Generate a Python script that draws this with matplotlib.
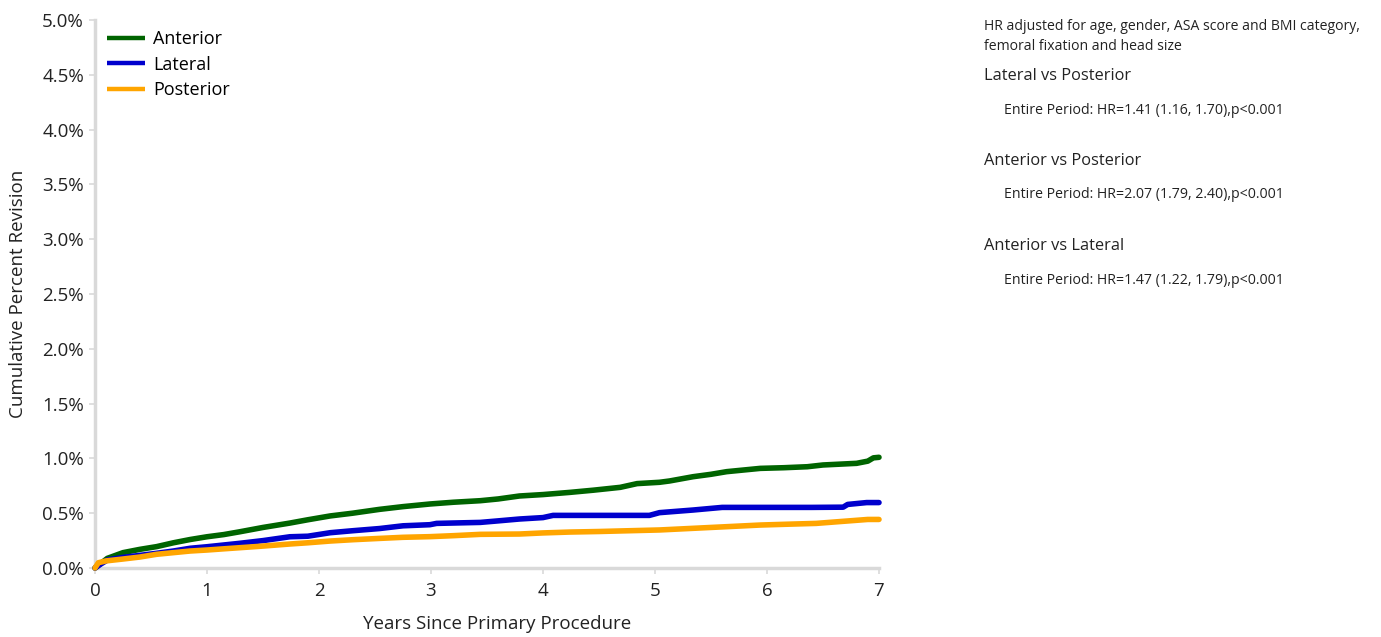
import matplotlib
matplotlib.use("Agg")
import matplotlib.pyplot as plt
from matplotlib.ticker import FuncFormatter

plt.rcParams['font.family'] = ['Open Sans', 'DejaVu Sans']

# ---- data (cumulative percent revision) ----
ant_t = [0, 0.05, 0.11, 0.25, 0.4, 0.55, 0.7, 0.85, 1.0, 1.15, 1.29, 1.5, 1.74, 1.9, 2.1, 2.3, 2.54, 2.75,
         2.99, 3.2, 3.44, 3.6, 3.79, 4.0, 4.24, 4.45, 4.69, 4.84, 5.04, 5.13, 5.34, 5.5, 5.64, 5.8, 5.94,
         6.15, 6.36, 6.5, 6.8, 6.9, 6.95, 7.0]
ant_v = [0, 0.04, 0.088, 0.14, 0.17, 0.195, 0.23, 0.26, 0.285, 0.305, 0.33, 0.37, 0.41, 0.44, 0.475, 0.5, 0.535,
         0.56, 0.584, 0.60, 0.614, 0.63, 0.657, 0.67, 0.69, 0.71, 0.736, 0.77, 0.782, 0.794, 0.833, 0.855,
         0.879, 0.895, 0.909, 0.915, 0.924, 0.94, 0.955, 0.975, 1.005, 1.01]

lat_t = [0, 0.05, 0.11, 0.25, 0.4, 0.55, 0.7, 0.85, 1.0, 1.15, 1.29, 1.5, 1.74, 1.9, 2.1, 2.3, 2.54, 2.75,
         2.99, 3.05, 3.44, 3.6, 3.79, 4.0, 4.09, 4.5, 4.95, 5.04, 5.34, 5.6, 6.0, 6.4, 6.68, 6.72, 6.89, 7.0]
lat_v = [0, 0.035, 0.073, 0.097, 0.115, 0.134, 0.155, 0.18, 0.194, 0.21, 0.225, 0.25, 0.285, 0.29, 0.322, 0.34, 0.36,
         0.385, 0.395, 0.407, 0.416, 0.43, 0.447, 0.46, 0.48, 0.48, 0.48, 0.505, 0.529, 0.553, 0.553, 0.553, 0.555,
         0.58, 0.597, 0.597]

pos_t = [0, 0.03, 0.1, 0.25, 0.4, 0.55, 0.7, 0.85, 1.0, 1.15, 1.29, 1.5, 1.74, 1.9, 2.1, 2.3, 2.54, 2.75,
         2.99, 3.2, 3.44, 3.79, 4.0, 4.24, 4.5, 4.69, 5.04, 5.34, 5.64, 5.94, 6.2, 6.44, 6.63, 6.9, 7.0]
pos_v = [0, 0.048, 0.065, 0.082, 0.1, 0.125, 0.14, 0.155, 0.164, 0.175, 0.185, 0.2, 0.219, 0.23, 0.246, 0.258, 0.27,
         0.28, 0.286, 0.295, 0.307, 0.31, 0.32, 0.328, 0.333, 0.338, 0.347, 0.362, 0.377, 0.392, 0.4, 0.407, 0.422,
         0.443, 0.443]

series = [("Anterior", ant_t, ant_v, "#006400"),
          ("Lateral", lat_t, lat_v, "#0000CD"),
          ("Posterior", pos_t, pos_v, "#FFA500")]

y_ticks = [0, 0.5, 1.0, 1.5, 2.0, 2.5, 3.0, 3.5, 4.0, 4.5, 5.0]
x_ticks = [0, 1, 2, 3, 4, 5, 6, 7]

annot_header = ["HR adjusted for age, gender, ASA score and BMI category,",
                "femoral fixation and head size"]
comparisons = ["Lateral vs Posterior", "Anterior vs Posterior", "Anterior vs Lateral"]
hr_texts = ["Entire Period: HR=1.41 (1.16, 1.70),p<0.001",
            "Entire Period: HR=2.07 (1.79, 2.40),p<0.001",
            "Entire Period: HR=1.47 (1.22, 1.79),p<0.001"]

# ---- figure ----
W, H = 1381, 637
fig = plt.figure(figsize=(W / 100, H / 100), dpi=100)
AX_L, AX_R, AX_T, AX_B = 95, 879, 20, 568
ax = fig.add_axes([AX_L / W, 1 - AX_B / H, (AX_R - AX_L) / W, (AX_B - AX_T) / H])

for name, t, v, c in series:
    ax.plot(t, v, color=c, lw=4.0, label=name, clip_on=False,
            solid_joinstyle="round", solid_capstyle="round", zorder=3)

ax.set_xlim(0, 7)
ax.set_ylim(0, 5.0)
ax.set_xticks(x_ticks)
ax.set_yticks(y_ticks)
ax.yaxis.set_major_formatter(FuncFormatter(lambda v, p: f"{v:.1f}%"))
for s in ["top", "right"]:
    ax.spines[s].set_visible(False)
for s in ["left", "bottom"]:
    ax.spines[s].set_color("#d9d9d9")
    ax.spines[s].set_linewidth(2.5)
ax.tick_params(axis="both", colors="#d9d9d9", length=4, width=1.2, labelcolor="#222222", labelsize=13.5)
ax.tick_params(axis="x", pad=6)
ax.tick_params(axis="y", pad=4)
ax.set_xlabel("Years Since Primary Procedure", fontsize=13.5, color="#222222")
ax.set_ylabel("Cumulative Percent Revision", fontsize=13.5, color="#222222")
ax.xaxis.set_label_coords((497 - AX_L) / (AX_R - AX_L), (AX_B - 624) / (AX_B - AX_T))
ax.xaxis.label.set_va("center")
ax.yaxis.set_label_coords((18 - AX_L) / (AX_R - AX_L), 0.5)
ax.yaxis.label.set_va("center")

leg = ax.legend(loc="upper left", bbox_to_anchor=((107 - AX_L) / (AX_R - AX_L), (AX_B - 30) / (AX_B - AX_T)),
                frameon=False, fontsize=13, borderpad=0, borderaxespad=0,
                handlelength=2.1, handletextpad=0.45, labelspacing=0.42)
for line in leg.get_lines():
    line.set_linewidth(3.2)
    line.set_solid_capstyle("butt")

# ---- annotation text ----
def fy(py):
    return 1 - py / H

fig.text(984 / W, fy(26), annot_header[0], fontsize=10.1, va="center", ha="left", color="#222222")
fig.text(984 / W, fy(46), annot_header[1], fontsize=10.1, va="center", ha="left", color="#222222")
comp_y = [76, 161, 246]
for cy, comp, hr in zip(comp_y, comparisons, hr_texts):
    fig.text(984 / W, fy(cy), comp, fontsize=11.75, va="center", ha="left", color="#222222")
    fig.text(1004 / W, fy(cy + 34), hr, fontsize=10.2, va="center", ha="left", color="#222222")

fig.savefig("out.png", dpi=100)
